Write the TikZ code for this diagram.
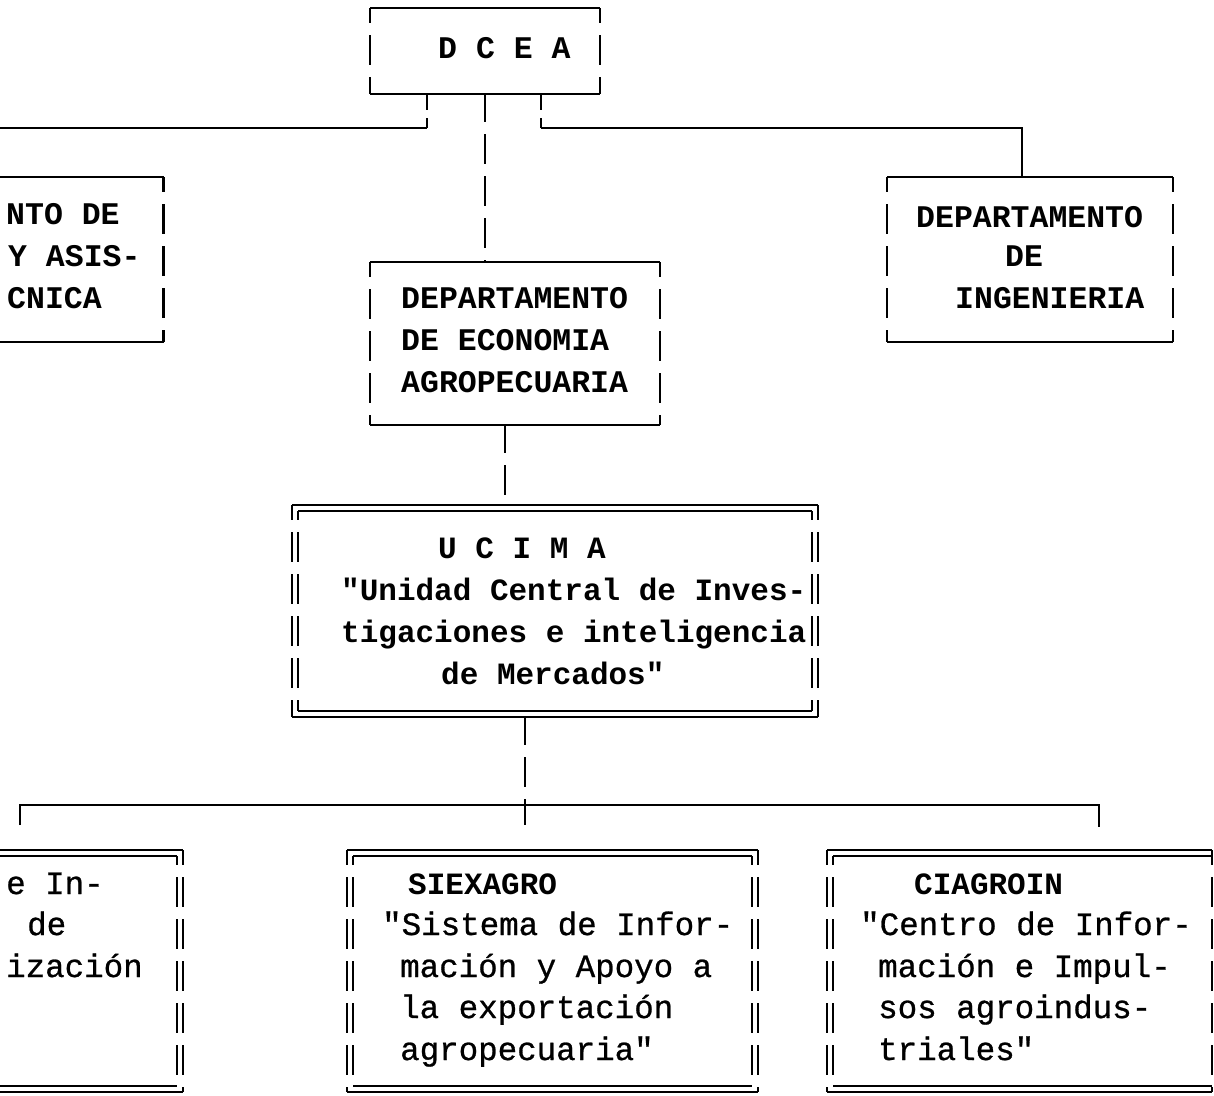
\documentclass[tikz,border=0pt]{standalone}
\usepackage{fontspec}
\setmainfont{Liberation Mono}
\newfontfamily\twreg{Liberation Mono}[FakeBold=0.8]
\newfontfamily\twbf{Liberation Mono}
\newcommand\twbox[2][]{%
  \draw[ln,#1] (#2.north west) -- (#2.north east);
  \draw[ln,#1] (#2.south west) -- (#2.south east);
  \draw[brk,#1] (#2.north west) -- (#2.south west);
  \draw[brk,#1] (#2.north east) -- (#2.south east);}
\begin{document}
\begin{tikzpicture}[x=1pt,y=-1pt,
  ln/.style={line width=2.6pt},
  brk/.style={line width=2.6pt, dash pattern=on 30pt off 12pt, dash phase=15pt},
  brks/.style={line width=2.6pt, dash pattern=on 16pt off 8pt},
  thin/.style={line width=2.3pt},
  box/.style={draw=none, inner sep=0pt, outer sep=0pt},
  up/.style={anchor=base west, inner sep=0pt, font=\twbf\bfseries\fontsize{31.5}{40}\selectfont},
  uc/.style={anchor=base west, inner sep=0pt, font=\twbf\bfseries\fontsize{31}{40}\selectfont},
  lo/.style={anchor=base west, inner sep=0pt, font=\twreg\fontsize{32.5}{40}\selectfont},
  lob/.style={anchor=base west, inner sep=0pt, font=\twbf\bfseries\fontsize{31}{40}\selectfont}]
\useasboundingbox (0,0) rectangle (1214,1095);
\clip (0,0) rectangle (1214,1095);

% ---- boxes
\node[box, minimum width=230pt, minimum height=86pt] (dcea) at (485,51) {};
\node[box, minimum width=463pt, minimum height=165pt] (lbox) at (-68,259.5) {};
\node[box, minimum width=286pt, minimum height=165pt] (ing) at (1030,259.5) {};
\node[box, minimum width=290pt, minimum height=163pt] (econ) at (515,343.5) {};
\node[box, minimum width=526pt, minimum height=212pt] (ucima) at (555,611) {};
\node[box, minimum width=514pt, minimum height=200pt] (ucimaI) at (555,611) {};
\node[box, minimum width=326pt, minimum height=242pt] (llb) at (20,971) {};
\node[box, minimum width=314pt, minimum height=230pt] (llbI) at (20,971) {};
\node[box, minimum width=411pt, minimum height=242pt] (siex) at (552.5,971) {};
\node[box, minimum width=399pt, minimum height=230pt] (siexI) at (552.5,971) {};
\node[box, minimum width=385pt, minimum height=242pt] (ciag) at (1019.5,971) {};
\node[box, minimum width=373pt, minimum height=230pt] (ciagI) at (1019.5,971) {};

\twbox{dcea}
\twbox{lbox}
\twbox{ing}
\twbox{econ}
\twbox[thin]{ucima}
\twbox[thin,dash phase=21pt]{ucimaI}
\twbox[thin]{llb}
\twbox[thin,dash phase=21pt]{llbI}
\twbox[thin]{siex}
\twbox[thin,dash phase=21pt]{siexI}
% CIAGROIN: double on top, left, bottom; single on right
\draw[ln,thin] (ciag.north west) -- (ciag.north east);
\draw[ln,thin] (ciag.south west) -- (ciag.south east);
\draw[brk,thin] (ciag.north west) -- (ciag.south west);
\draw[brk,thin] (ciag.north east) -- (ciag.south east);
\draw[ln,thin] (ciagI.north west) -- (ciagI.north west -| ciag.east);
\draw[ln,thin] (ciagI.south west) -- (ciagI.south west -| ciag.east);
\draw[brk,thin,dash phase=21pt] (ciagI.north west) -- (ciagI.south west);

% ---- connectors
\coordinate (dl) at (427,94);
\coordinate (dr) at (541,94);
\coordinate (kl) at (427,128);
\coordinate (kr) at (541,128);
\coordinate (ec) at (505,425);
\draw[brks] (dl) -- (kl);
\draw[brks] (dr) -- (kr);
\draw[ln] (kl) -| (lbox.north);
\draw[ln] (kr) -| (ing.north -| 1022,0);
\draw[brk, dash phase=2pt] (dcea.south) -- (dcea.south |- econ.north);
\draw[brk, dash phase=2pt] (ec) -- (ec |- ucima.north);
\coordinate (hub) at (525,805);
\coordinate (dropL) at (20,825);
\coordinate (dropR) at (1099,827);
\coordinate (dropM) at (525,825);
\draw[brk, dash phase=2pt] (hub |- ucima.south) -- (hub);
\draw[ln] (dropL) |- (hub) -| (dropR);
\draw[ln] (hub) -- (dropM);

% ---- texts
\node[up] (t1) at (438,58) {D C E A};
\node[up] (t2) at (6,224) {NTO DE};
\node[up] (t3) at (8,266) {Y ASIS-};
\node[up] (t4) at (7,308) {CNICA};
\node[up] (t5) at (916,227) {DEPARTAMENTO};
\node[up] (t6) at (1005,266) {DE};
\node[up] (t7) at (955,308) {INGENIERIA};
\node[up] (t8) at (401,308) {DEPARTAMENTO};
\node[up] (t9) at (401,350) {DE ECONOMIA};
\node[up] (t10) at (401,392) {AGROPECUARIA};
\node[uc] (t11) at (438,558) {U C I M A};
\node[uc] (t12) at (341,600) {"Unidad Central de Inves-};
\node[uc] (t13) at (341,642) {tigaciones e inteligencia};
\node[uc] (t14) at (441,684) {de Mercados"};
\node[lo] (t15) at (6,894) {e In-};
\node[lo] (t16) at (27,935) {de};
\node[lo] (t17) at (6,977) {ización};
\node[lob] (t18) at (408,894) {SIEXAGRO};
\node[lo] (t19) at (382,935) {"Sistema de Infor-};
\node[lo] (t20) at (400,977) {mación y Apoyo a};
\node[lo] (t21) at (400,1018) {la exportación};
\node[lo] (t22) at (400,1060) {agropecuaria"};
\node[lob] (t23) at (914,894) {CIAGROIN};
\node[lo] (t24) at (860,935) {"Centro de Infor-};
\node[lo] (t25) at (878,977) {mación e Impul-};
\node[lo] (t26) at (878,1018) {sos agroindus-};
\node[lo] (t27) at (878,1060) {triales"};
\end{tikzpicture}
\end{document}
